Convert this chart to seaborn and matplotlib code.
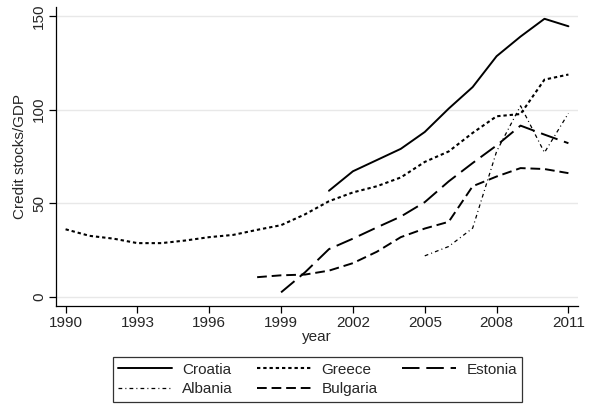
import numpy as np
import pandas as pd
import matplotlib
matplotlib.use("Agg")
import matplotlib.pyplot as plt
import seaborn as sns

croatia_years = list(range(2001, 2012))
croatia = [56.6, 67, 73, 79, 88, 100.5, 112, 128.5, 139, 148.5, 144.5]

greece_years = list(range(1990, 2012))
greece = [36, 32.5, 31, 28.6, 28.6, 30, 31.8, 33, 35.7, 38.2, 44, 51, 55.7, 59,
          63.7, 72, 77.6, 87.5, 96.4, 97.6, 116, 118.7]

estonia_years = list(range(1999, 2012))
estonia = [2.3, 13, 25.4, 31, 37, 42.8, 50.5, 61.6, 71.4, 80.8, 91.4, 86.6, 82]

albania_years = list(range(2005, 2012))
albania = [21.8, 26.8, 36.6, 77.6, 102, 77, 98]

bulgaria_years = list(range(1998, 2012))
bulgaria = [10.4, 11.4, 11.8, 13.9, 17.9, 24, 31.8, 36.4, 40, 59, 64.2, 68.7, 68.2, 66]

order = ["Croatia", "Greece", "Estonia", "Albania", "Bulgaria"]
series = {
    "Croatia": (croatia_years, croatia),
    "Greece": (greece_years, greece),
    "Estonia": (estonia_years, estonia),
    "Albania": (albania_years, albania),
    "Bulgaria": (bulgaria_years, bulgaria),
}
rows = []
for name in order:
    ys, vs = series[name]
    for y, v in zip(ys, vs):
        rows.append({"year": y, "value": v, "country": name})
df = pd.DataFrame(rows)

sns.set_style("white")
plt.rcParams["font.family"] = ["Liberation Sans", "DejaVu Sans"]
FS = 11

fig = plt.figure(figsize=(5.92, 4.05), dpi=100)
ax = fig.add_axes([56 / 592, 1 - 306 / 405, (578 - 56) / 592, (306 - 7) / 405])

dashes = {
    "Croatia": "",
    "Greece": (1.6, 1.4),
    "Estonia": (9, 3.5),
    "Albania": (3, 2.5, 0.8, 2.5),
    "Bulgaria": (5, 2.5),
}
widths = {"Croatia": 1.4, "Greece": 1.5, "Estonia": 1.4, "Albania": 0.9, "Bulgaria": 1.4}

lines = {}
for name in order:
    sub = df[df["country"] == name]
    sns.lineplot(data=sub, x="year", y="value", ax=ax, color="black",
                 lw=widths[name], label=name, legend=False)
    line = ax.get_lines()[-1]
    if dashes[name]:
        line.set_dashes(dashes[name])
    lines[name] = line

ax.set_xlim(1989.6, 2011.4)
ax.set_ylim(-5, 154.8)
ax.set_xticks([1990, 1993, 1996, 1999, 2002, 2005, 2008, 2011])
ax.set_yticks([0, 50, 100, 150])
ax.yaxis.grid(True, color="#e8e8e8", lw=1)
ax.xaxis.grid(False)
for s in ["top", "right"]:
    ax.spines[s].set_visible(False)
for s in ["left", "bottom"]:
    ax.spines[s].set_color("black")
    ax.spines[s].set_linewidth(0.9)
ax.tick_params(axis="both", direction="out", length=5, width=0.9, color="black",
               labelsize=FS, bottom=True, left=True, pad=2)
for lbl in ax.get_yticklabels():
    lbl.set_rotation(90)
    lbl.set_va("center")
ax.set_xlabel("year", fontsize=FS, labelpad=0)
ax.set_ylabel("Credit stocks/GDP", fontsize=FS, labelpad=4)

leg_order = ["Croatia", "Albania", "Greece", "Bulgaria", "Estonia"]
leg = fig.legend(handles=[lines[n] for n in leg_order], labels=leg_order, ncol=3,
                 loc="center",
                 bbox_to_anchor=((112 + 523) / 2 / 592, 1 - (355 + 404) / 2 / 405),
                 frameon=True, fancybox=False, fontsize=FS, handlelength=3.5,
                 columnspacing=1.6, handletextpad=0.7, borderpad=0.35,
                 labelspacing=0.35, edgecolor="black")
leg.get_frame().set_linewidth(0.9)

fig.savefig("out.png", dpi=100)
